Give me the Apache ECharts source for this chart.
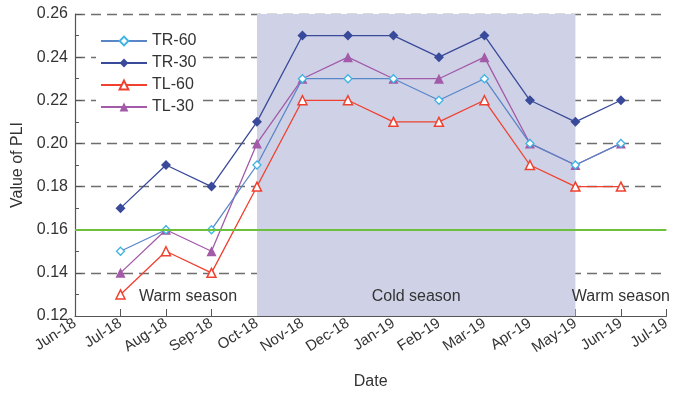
<!DOCTYPE html>
<html>
<head>
<meta charset="utf-8">
<script src="https://cdn.jsdelivr.net/npm/echarts@6/dist/echarts.min.js"></script>
<style>
  html, body { margin: 0; padding: 0; background: #fff; }
  #chart { width: 673px; height: 395px; }
</style>
</head>
<body>
<div id="chart"></div>
<script>
// Monthly axis (Jun-18 .. Jul-19); sampling months are Jul-18 .. Jun-19
const months = ['Jun-18', 'Jul-18', 'Aug-18', 'Sep-18', 'Oct-18', 'Nov-18', 'Dec-18',
                'Jan-19', 'Feb-19', 'Mar-19', 'Apr-19', 'May-19', 'Jun-19', 'Jul-19'];
const sampleMonths = ['Jul-18', 'Aug-18', 'Sep-18', 'Oct-18', 'Nov-18', 'Dec-18',
                      'Jan-19', 'Feb-19', 'Mar-19', 'Apr-19', 'May-19', 'Jun-19'];

const tr60 = [0.15, 0.16, 0.16, 0.19, 0.23, 0.23, 0.23, 0.22, 0.23, 0.20, 0.19, 0.20];
const tr30 = [0.17, 0.19, 0.18, 0.21, 0.25, 0.25, 0.25, 0.24, 0.25, 0.22, 0.21, 0.22];
const tl60 = [0.13, 0.15, 0.14, 0.18, 0.22, 0.22, 0.21, 0.21, 0.22, 0.19, 0.18, 0.18];
const tl30 = [0.14, 0.16, 0.15, 0.20, 0.23, 0.24, 0.23, 0.23, 0.24, 0.20, 0.19, 0.20];

const yTicks = [0.12, 0.14, 0.16, 0.18, 0.20, 0.22, 0.24, 0.26];
const threshold = 0.16;

const coldSeason = ['Oct-18', 'May-19'];
const warmSeasonA = ['Jun-18', 'Oct-18'];
const warmSeasonB = ['May-19', 'Jul-19'];

const FONT = 'Liberation Sans, Arial, sans-serif';
const TEXT = '#333';

function pairs(vals) { return vals.map((v, i) => [sampleMonths[i], v]); }

// dashed grid lines everywhere except on the axis (0.12) and the threshold (0.16)
const gridColors = yTicks.map(v => (Math.abs(v - 0.12) < 1e-9 || Math.abs(v - threshold) < 1e-9) ? 'rgba(0,0,0,0)' : '#6e6e6e');

const chart = echarts.init(document.getElementById('chart'));
chart.setOption({
  animation: false,
  textStyle: { fontFamily: FONT },
  grid: { left: 75, right: 6, top: 14, bottom: 77 },
  legend: {
    orient: 'vertical',
    left: 96, top: 31,
    itemWidth: 46, itemHeight: 11, itemGap: 6,
    backgroundColor: '#fff',
    padding: [2, 6, 2, 4],
    textStyle: { fontSize: 16, color: TEXT, fontFamily: FONT },
    data: ['TR-60', 'TR-30', 'TL-60', 'TL-30']
  },
  xAxis: {
    type: 'category',
    data: months,
    boundaryGap: false,
    name: 'Date', nameLocation: 'middle', nameGap: 58,
    nameTextStyle: { fontSize: 16, color: TEXT },
    axisLine: { lineStyle: { color: '#555', width: 1.2 } },
    axisTick: { inside: true, alignWithLabel: true, length: 7, lineStyle: { color: '#555' } },
    axisLabel: { rotate: 33, fontSize: 15, color: TEXT, margin: 6, interval: 0 },
    splitLine: { show: false }
  },
  yAxis: {
    type: 'value',
    min: 0.12, max: 0.26, interval: 0.02,
    name: 'Value of PLI', nameLocation: 'middle', nameGap: 46,
    nameTextStyle: { fontSize: 16, color: TEXT },
    axisLine: { show: true, lineStyle: { color: '#555', width: 1.2 } },
    axisTick: { show: true, inside: true, length: 7, lineStyle: { color: '#555' } },
    minorTick: { show: true, splitNumber: 2, length: 4, lineStyle: { color: '#555' } },
    axisLabel: { fontSize: 16, color: TEXT, margin: 7, formatter: v => v.toFixed(2) },
    splitLine: { show: true, lineStyle: { color: gridColors, type: [10, 6], width: 1.3 } }
  },
  series: [
    {
      name: 'TR-60', type: 'line', data: pairs(tr60), z: 4,
      symbol: 'diamond', symbolSize: 8,
      lineStyle: { color: '#5a86c8', width: 1.3 },
      itemStyle: { color: '#fff', borderColor: '#3fb4e4', borderWidth: 1.3 },
      markArea: {
        silent: true,
        itemStyle: { color: 'rgba(0,0,0,0)' },
        label: { position: 'insideBottom', distance: 11, fontSize: 16, color: TEXT },
        data: [
          [{ xAxis: warmSeasonA[0], name: 'Warm season', label: { offset: [22, 0] } }, { xAxis: warmSeasonA[1] }],
          [{ xAxis: coldSeason[0], name: 'Cold season', itemStyle: { color: '#cfd2e6' } }, { xAxis: coldSeason[1] }],
          [{ xAxis: warmSeasonB[0], name: 'Warm season', label: { offset: [0, 0] } }, { xAxis: warmSeasonB[1] }]
        ]
      },
      markLine: {
        silent: true, symbol: 'none',
        label: { show: false },
        lineStyle: { color: '#6cc03c', width: 2, type: 'solid' },
        data: [{ yAxis: threshold }]
      }
    },
    {
      name: 'TR-30', type: 'line', data: pairs(tr30), z: 5,
      symbol: 'diamond', symbolSize: 10,
      lineStyle: { color: '#3a4a9a', width: 1.3 },
      itemStyle: { color: '#3a4a9a' }
    },
    {
      name: 'TL-60', type: 'line', data: pairs(tl60), z: 4,
      symbol: 'triangle', symbolSize: 9,
      lineStyle: { color: '#f04030', width: 1.3 },
      itemStyle: { color: '#fff', borderColor: '#f04030', borderWidth: 1.5 }
    },
    {
      name: 'TL-30', type: 'line', data: pairs(tl30), z: 3,
      symbol: 'triangle', symbolSize: 10,
      lineStyle: { color: '#a25aa9', width: 1.3 },
      itemStyle: { color: '#a25aa9' }
    }
  ]
});
</script>
</body>
</html>
